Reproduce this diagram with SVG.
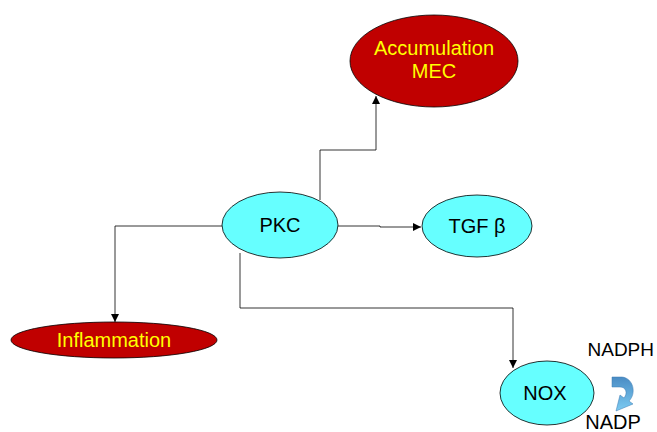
<svg xmlns="http://www.w3.org/2000/svg" width="657" height="432" viewBox="0 0 657 432">
<style>
.red{fill:#C00000;stroke:#000;stroke-width:0.8}
.cyan{fill:#66FFFF;stroke:#000;stroke-width:0.8}
.ty{fill:#FFFF00;font-family:"Liberation Sans",Arial,sans-serif;font-size:20px;text-anchor:middle}
.tb{fill:#000;font-family:"Liberation Sans",Arial,sans-serif;font-size:20px;text-anchor:middle}
.c{fill:none;stroke:#000;stroke-width:0.8}
</style>
<defs>
<marker id="ah" viewBox="0 0 10 10" refX="10" refY="5" markerWidth="8" markerHeight="8" markerUnits="userSpaceOnUse" orient="auto">
<path d="M0,0 L10,5 L0,10 Z" fill="#000"/>
</marker>
<linearGradient id="bg" x1="0" y1="0" x2="0" y2="1">
<stop offset="0" stop-color="#4A8CC4"/>
<stop offset="1" stop-color="#7CCBF2"/>
</linearGradient>
</defs>
<g id="connectors">
<path class="c" d="M320,200 L320,150 L376,150 L376,96" marker-end="url(#ah)"/>
<path class="c" d="M338,226 L380,226 L380,227 L421,227" marker-end="url(#ah)"/>
<path class="c" d="M222,226 L115,226 L115,322" marker-end="url(#ah)"/>
<path class="c" d="M240,253 L240,308 L513,308 L513,368" marker-end="url(#ah)"/>
</g>
<g id="accumulation">
<ellipse class="red" cx="434" cy="61" rx="84" ry="46"/>
<text class="ty" x="434" y="55">Accumulation</text>
<text class="ty" x="434" y="78">MEC</text>
</g>
<g id="pkc">
<ellipse class="cyan" cx="280" cy="225" rx="58" ry="33"/>
<text class="tb" x="280" y="232">PKC</text>
</g>
<g id="tgf">
<ellipse class="cyan" cx="477" cy="226" rx="55" ry="31"/>
<text class="tb" x="477" y="233">TGF β</text>
</g>
<g id="inflammation">
<ellipse class="red" cx="114" cy="340" rx="103" ry="18"/>
<text class="ty" x="114" y="347">Inflammation</text>
</g>
<g id="nox">
<ellipse class="cyan" cx="547" cy="393" rx="47" ry="32"/>
<text class="tb" x="545" y="400">NOX</text>
</g>
<g id="nadph">
<text class="tb" x="654" y="356" style="text-anchor:end;font-size:19px">NADPH</text>
<path d="M612,377 L622,377 C633,378 637,393 629,401 L633,404 L616,411 L620,395 L624,398 C628,393 626,387 620,387 L612,387 Z" fill="url(#bg)" stroke="#3A78B0" stroke-width="0.5"/>
<text class="tb" x="613" y="429">NADP</text>
</g>
</svg>
